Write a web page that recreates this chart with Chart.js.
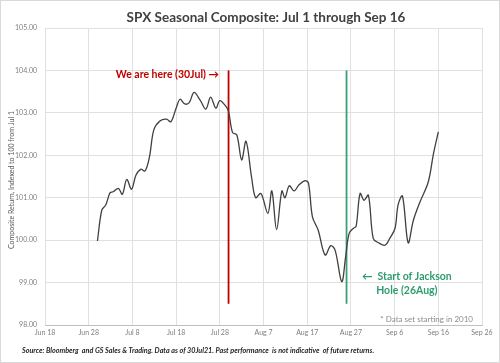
<!DOCTYPE html>
<html>
<head>
<meta charset="utf-8">
<script src="https://cdn.jsdelivr.net/npm/chart.js@4/dist/chart.umd.min.js"></script>
<style>
html,body{margin:0;padding:0;background:#fff;}
#wrap{width:500px;height:363px;position:relative;}
</style>
</head>
<body>
<div id="wrap"><canvas id="c" width="500" height="363"></canvas></div>
<script>
// Day offsets from Jun 18 (day 0) and composite values
const days = [12.0,13.0,13.9,14.9,15.6,16.8,17.7,18.7,19.8,20.8,21.9,22.9,23.9,24.9,26.3,27.8,28.8,30.0,30.9,32.0,33.0,34.1,35.5,36.8,37.9,39.1,40.0,41.2,42.0,42.9,43.9,45.0,46.0,47.3,48.2,49.4,51.0,51.9,53.0,54.2,54.9,55.9,57.0,58.1,59.5,60.3,61.2,62.5,64.1,65.4,66.4,67.9,68.8,69.6,70.6,71.2,72.1,73.0,74.0,75.1,76.3,77.8,78.9,80.1,80.8,81.8,83.1,84.3,85.8,87.7,88.9,90.0];
const values = [99.98,100.71,100.83,101.12,101.14,101.22,101.08,101.43,101.2,101.53,101.67,101.63,101.96,102.6,102.81,102.85,102.79,103.11,103.32,103.21,103.24,103.48,103.30,103.09,103.37,103.11,103.29,103.18,103.03,102.54,102.48,101.89,102.33,101.46,101.0,101.1,100.63,101.16,100.25,101.16,101.0,101.28,101.16,101.30,101.40,101.34,100.55,100.24,99.65,99.87,99.76,99.02,99.61,100.16,100.28,100.33,101.10,100.94,101.06,100.04,99.94,99.88,100.04,100.28,100.83,101.04,99.94,100.47,100.90,101.37,102.04,102.55];
const xTickLabels = ['Jun 18','Jun 28','Jul 8','Jul 18','Jul 28','Aug 7','Aug 17','Aug 27','Sep 6','Sep 16','Sep 26'];
const markerDays = [42, 69];          // 30 Jul, 26 Aug
const markerRange = [98.5, 104];

const FONT = "Lato, 'Open Sans', sans-serif";
const points = days.map((d, i) => ({x: d, y: values[i]}));

const textPlugin = {
  id: 'texts',
  afterDraw(chart) {
    const ctx = chart.ctx;
    const xs = chart.scales.x, ys = chart.scales.y;
    ctx.save();
    ctx.strokeStyle = '#d9d9d9'; ctx.lineWidth = 1;
    ctx.strokeRect(0.5, 0.5, 499, 362);
    ctx.textBaseline = 'middle';
    ctx.fillStyle = '#404040';
    ctx.font = "bold 13.5px " + FONT;
    ctx.textAlign = 'center';
    ctx.fillText('SPX Seasonal Composite: Jul 1 through Sep 16', 266, 18);
    ctx.save();
    ctx.translate(12, 180);
    ctx.rotate(-Math.PI / 2);
    ctx.font = "7px " + FONT;
    ctx.fillStyle = '#595959';
    ctx.fillText('Composite Return, Indexed to 100 from Jul 1', 0, 0);
    ctx.restore();
    ctx.textAlign = 'left';
    ctx.fillStyle = '#262626';
    ctx.font = "italic bold 7.2px " + FONT;
    ctx.fillText('Source: Bloomberg  and GS Sales & Trading. Data as of 30Jul21. Past performance  is not indicative  of future returns.', 22, 351);
    ctx.fillStyle = '#c00000';
    ctx.font = "bold 10.5px " + FONT;
    ctx.textAlign = 'right';
    ctx.fillText('We are here (30Jul) \u2192', xs.getPixelForValue(39.8), ys.getPixelForValue(103.89));
    ctx.fillStyle = '#2e9c6e';
    ctx.textAlign = 'center';
    ctx.fillText('\u2190  Start of Jackson', xs.getPixelForValue(82.8), ys.getPixelForValue(99.13));
    ctx.fillText('Hole (26Aug)', xs.getPixelForValue(82.8), ys.getPixelForValue(98.80));
    ctx.fillStyle = '#8c8c8c';
    ctx.font = "8px " + FONT;
    ctx.textAlign = 'right';
    ctx.fillText('* Data set starting in 2010', 473, 319);
    ctx.restore();
  }
};

new Chart(document.getElementById('c'), {
  type: 'line',
  data: {
    datasets: [
      {data: points, borderColor: '#404040', borderWidth: 1.3, pointRadius: 0, tension: 0.35, fill: false},
      {data: markerRange.map(v => ({x: markerDays[0], y: v})), borderColor: '#c00000', borderWidth: 1.8, pointRadius: 0, tension: 0},
      {data: markerRange.map(v => ({x: markerDays[1], y: v})), borderColor: '#3a9f74', borderWidth: 1.8, pointRadius: 0, tension: 0}
    ]
  },
  options: {
    responsive: false,
    animation: false,
    layout: {padding: {top: 28, right: 18, left: 0, bottom: 0}},
    plugins: {legend: {display: false}, tooltip: {enabled: false}, title: {display: false}},
    scales: {
      x: {
        type: 'linear', min: 0, max: 100,
        afterFit(s) { s.height = 38; },
        ticks: {stepSize: 10, color: '#7f7f7f', font: {family: FONT, size: 7}, padding: 4, maxRotation: 0,
          callback: v => xTickLabels[Math.round(v / 10)]},
        grid: {color: '#e0e0e0', drawTicks: false},
        border: {color: '#bfbfbf'}
      },
      y: {
        min: 98, max: 105,
        afterFit(s) { s.width = 45; },
        ticks: {stepSize: 1, color: '#7f7f7f', font: {family: FONT, size: 7}, padding: 8,
          callback: v => v.toFixed(2)},
        grid: {color: '#e0e0e0', drawTicks: false},
        border: {display: false}
      }
    }
  },
  plugins: [textPlugin]
});
</script>
</body>
</html>
